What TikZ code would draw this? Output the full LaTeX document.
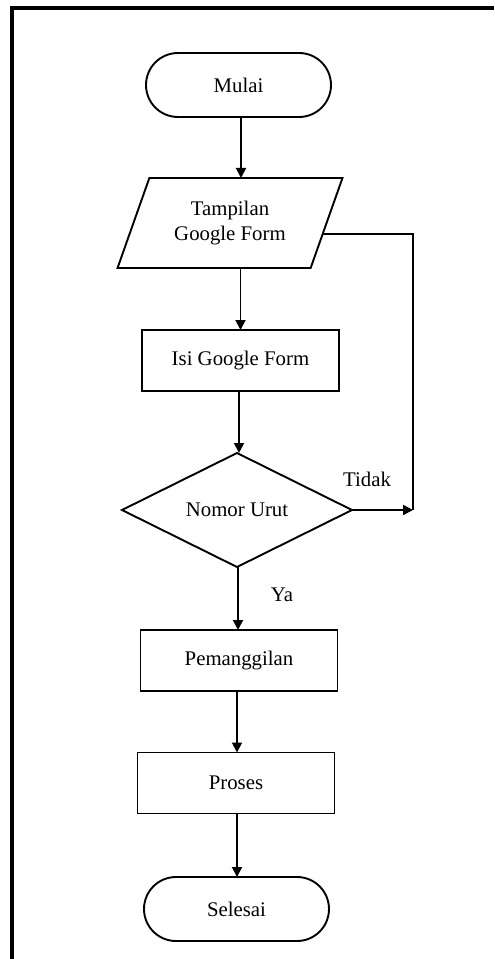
\documentclass[tikz,border=0pt]{standalone}
\usepackage{fontspec}
\setmainfont{Liberation Serif}
\usetikzlibrary{shapes.geometric,arrows.meta,calc}
\begin{document}
\begin{tikzpicture}[x=0.5pt,y=-0.5pt,
  every node/.style={font=\fontsize{10.4}{12.5}\selectfont, text=black},
  base/.style={draw, line width=0.95pt, inner sep=0pt, outer sep=0pt, align=center},
  term/.style={base, rectangle, rounded corners=16pt, minimum width=92.5pt, minimum height=32pt},
  procbox/.style={base, rectangle, minimum width=98.5pt, minimum height=30.5pt},
  iobox/.style={base, trapezium, trapezium stretches=true, trapezium left angle=63.4, trapezium right angle=116.6, minimum width=113pt, minimum height=45pt},
  decbox/.style={base, diamond, aspect=2, minimum width=115pt, minimum height=57pt},
  conn/.style={line width=0.95pt, -{Triangle[length=5pt,width=5pt]}},
  plain/.style={line width=0.95pt},
  frame/.style={line width=1.6pt}
]
\useasboundingbox (0,0) rectangle (494,959);
% frame (top and left edges only visible)
\coordinate (ftr) at (494,8);
\coordinate (ftl) at (12,8);
\coordinate (fbl) at (12,959);
\draw[frame] (ftr) -- (ftl) -- (fbl);

\node[term] (start) at (238.5,85) {Mulai};
\node[iobox] (para) at (230,223) {Tampilan\\Google Form};
\node[procbox] (isi) at (240.5,360.5) {Isi Google Form};
\node[decbox] (dec) at (237,510) {Nomor Urut};
\node[procbox] (pem) at (239,660.5) {Pemanggilan};
\node[procbox] (pro) at (236,783) {Proses};
\node[term] (end) at (236.5,909) {Selesai};

\node (tidak) at (367,479) {Tidak};
\node (ya) at (282,595) {Ya};

\coordinate (pr) at ($(para.top right corner)!0.62!(para.bottom right corner)$);
\coordinate (rt) at (413,0);

\draw[conn] (start.south -| 241,0) -- (para.north -| 241,0);
\draw[conn] (para.south -| isi.north) -- (isi.north);
\draw[conn] (isi.south -| 239,0) -- (dec.north -| 239,0);
\draw[conn] (dec.south -| 238,0) -- (pem.north -| 238,0);
\draw[conn] (pem.south -| 237,0) -- (pro.north -| 237,0);
\draw[conn] (pro.south -| 237,0) -- (end.north -| 237,0);
\draw[plain] (pr) -| (rt |- dec.east);
\draw[conn] (dec.east) -- (rt |- dec.east);
\end{tikzpicture}
\end{document}
